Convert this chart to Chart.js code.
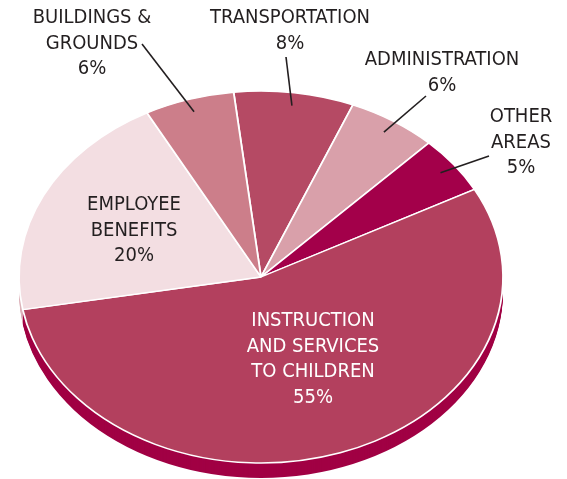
<!DOCTYPE html>
<html>
<head>
<meta charset="utf-8">
<script src="https://cdn.jsdelivr.net/npm/chart.js@4.4.1/dist/chart.umd.min.js"></script>
<style>
  html, body { margin: 0; padding: 0; background: #fff; }
  #wrap { width: 567px; height: 479px; }
</style>
</head>
<body>
<div id="wrap"><canvas id="budgetChart" width="567" height="479"></canvas></div>
<script>
// slices, clockwise from just left of the top
const categories = [
    ['TRANSPORTATION'],
    ['ADMINISTRATION'],
    ['OTHER', 'AREAS'],
    ['INSTRUCTION', 'AND SERVICES', 'TO CHILDREN'],
    ['EMPLOYEE', 'BENEFITS'],
    ['BUILDINGS &', 'GROUNDS']
];
const shares = [8, 6, 5, 55, 20, 6];
const sliceColors = ['#b54a64', '#d9a0aa', '#a3004a', '#b3405e', '#f3dee2', '#cc7e8a'];
const sideColors = ['#962f48', '#b87f8a', '#80003a', '#a10044', '#dcb2b9', '#a85f6b'];

// label placement (px): centre of first line, outer end of leader line
const labelSpots = [
    { x: 290, y: 18, lead: [286, 57], color: '#231f20' },
    { x: 442, y: 60, lead: [426, 96], color: '#231f20' },
    { x: 521, y: 117, lead: [489, 156], color: '#231f20' },
    { x: 313, y: 321, lead: null, color: '#ffffff' },
    { x: 134, y: 205, lead: null, color: '#231f20' },
    { x: 92, y: 18, lead: [142, 44], color: '#231f20' }
];

const labelFont = '20px "Liberation Sans Narrow", "DejaVu Sans Condensed", "Roboto Condensed", sans-serif';
const lineGap = 25.5;

function tiltScale(chart, opts) {
    const arc = chart.getDatasetMeta(0).data[0];
    return { x: arc.x, y: arc.y, sx: opts.rx / arc.outerRadius, sy: opts.ry / arc.outerRadius };
}

// squash the pie into an ellipse and give it some depth
const tiltPlugin = {
    id: 'tilt',
    beforeDatasetsDraw(chart, args, opts) {
        const ctx = chart.ctx;
        const arcs = chart.getDatasetMeta(0).data;
        const t = tiltScale(chart, opts);

        for (let d = opts.depth; d > 0; d--) {
            ctx.save();
            ctx.translate(t.x, t.y + d);
            ctx.scale(t.sx, t.sy);
            arcs.forEach((arc, i) => {
                ctx.beginPath();
                ctx.moveTo(0, 0);
                ctx.arc(0, 0, arc.outerRadius, arc.startAngle, arc.endAngle);
                ctx.closePath();
                ctx.fillStyle = sideColors[i];
                ctx.fill();
            });
            ctx.restore();
        }

        ctx.save();
        ctx.translate(t.x, t.y);
        ctx.scale(t.sx, t.sy);
        ctx.translate(-t.x, -t.y);
    },
    afterDatasetsDraw(chart) {
        chart.ctx.restore();
    }
};

const labelPlugin = {
    id: 'sliceLabels',
    afterDraw(chart) {
        const ctx = chart.ctx;
        const arcs = chart.getDatasetMeta(0).data;
        const t = tiltScale(chart, chart.options.plugins.tilt);

        ctx.save();
        arcs.forEach((arc, i) => {
            const spot = labelSpots[i];
            if (spot.lead) {
                const mid = (arc.startAngle + arc.endAngle) / 2;
                const r = arc.outerRadius * 0.93;
                ctx.beginPath();
                ctx.moveTo(spot.lead[0], spot.lead[1]);
                ctx.lineTo(t.x + Math.cos(mid) * r * t.sx, t.y + Math.sin(mid) * r * t.sy);
                ctx.strokeStyle = '#231f20';
                ctx.lineWidth = 1.6;
                ctx.stroke();
            }
            const lines = categories[i].concat([shares[i] + '%']);
            ctx.font = labelFont;
            ctx.fillStyle = spot.color;
            ctx.textAlign = 'center';
            ctx.textBaseline = 'middle';
            lines.forEach((txt, k) => {
                ctx.fillText(txt, spot.x, spot.y + k * lineGap);
            });
        });
        ctx.restore();
    }
};

new Chart(document.getElementById('budgetChart'), {
    type: 'pie',
    data: {
        labels: categories.map(c => c.join(' ')),
        datasets: [{
            data: shares,
            backgroundColor: sliceColors,
            borderColor: '#ffffff',
            borderWidth: 1.5,
            clip: false
        }]
    },
    options: {
        responsive: false,
        animation: false,
        events: [],
        rotation: -6.5,
        layout: {
            padding: { left: 61, right: 106, top: 77, bottom: 2 }
        },
        plugins: {
            legend: { display: false },
            tooltip: { enabled: false },
            tilt: { rx: 242, ry: 186, depth: 15 }
        }
    },
    plugins: [tiltPlugin, labelPlugin]
});
</script>
</body>
</html>
